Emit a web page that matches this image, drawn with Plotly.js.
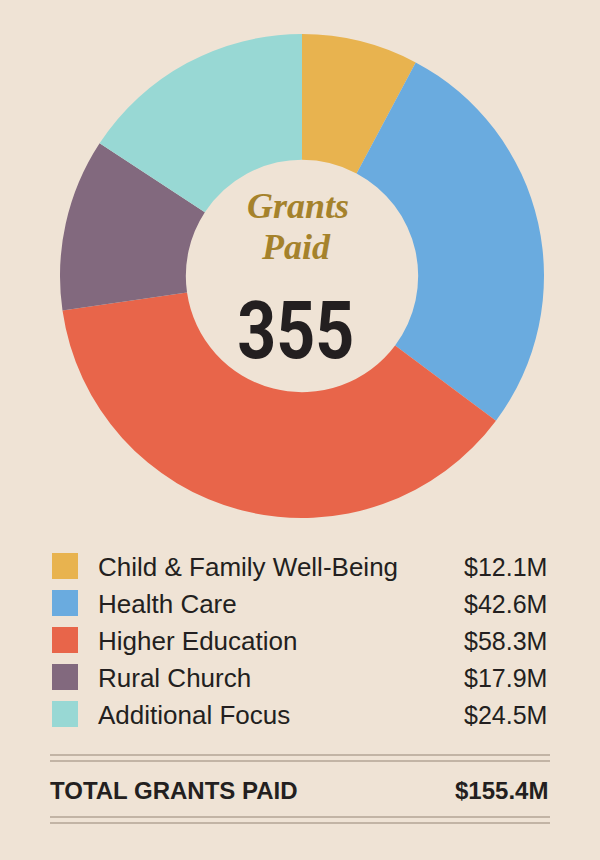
<!DOCTYPE html>
<html>
<head>
<meta charset="utf-8">
<script src="https://cdn.plot.ly/plotly-3.0.1.min.js"></script>
<style>html,body{margin:0;padding:0;background:#EFE3D5;}#chart{width:600px;height:860px;}</style>
</head>
<body>
<div id="chart"></div>
<script>
const categories = ["Child & Family Well-Being", "Health Care", "Higher Education", "Rural Church", "Additional Focus"];
const values = [12.1, 42.6, 58.3, 17.9, 24.5];
const valueLabels = ["$12.1M", "$42.6M", "$58.3M", "$17.9M", "$24.5M"];
const colors = ["#E8B34F", "#6AABDF", "#E8654A", "#82697E", "#98D8D4"];
const centerTitle = ["Grants", "Paid"];
const centerNumber = "355";
const totalLabel = "TOTAL GRANTS PAID";
const totalValue = "$155.4M";

const W = 600, H = 860;
const py = p => 1 - p / H;
const px = p => p / W;

const bg = "#EFE3D5";
const ink = "#231F20";

const trace = {
  type: "pie",
  labels: categories,
  values: values,
  marker: { colors: colors, line: { width: 0 } },
  hole: 0.48,
  sort: false,
  direction: "clockwise",
  rotation: 0,
  textinfo: "none",
  hoverinfo: "label+value",
  showlegend: false,
  domain: { x: [px(60), px(544)], y: [py(518), py(34)] }
};

const annotations = [];
const shapes = [];

const scriptFont = { family: "Liberation Serif, DejaVu Serif, serif", size: 36, color: "#A5822B", style: "italic", weight: "bold" };
annotations.push({ xref: "paper", yref: "paper", x: px(298), y: py(206), text: centerTitle[0], showarrow: false,
  font: scriptFont, xanchor: "center", yanchor: "middle" });
annotations.push({ xref: "paper", yref: "paper", x: px(296), y: py(247), text: centerTitle[1], showarrow: false,
  font: scriptFont, xanchor: "center", yanchor: "middle" });
annotations.push({ xref: "paper", yref: "paper", x: px(296), y: py(331), text: "<b>" + centerNumber + "</b>", showarrow: false,
  font: { family: "Roboto, Liberation Sans, sans-serif", size: 80, color: ink }, xanchor: "center", yanchor: "middle",
  name: "bignum" });

const rowY0 = 566, rowStep = 37;
categories.forEach((c, i) => {
  const yc = rowY0 + i * rowStep;
  shapes.push({ type: "rect", xref: "paper", yref: "paper", x0: px(52), x1: px(78), y0: py(yc - 13), y1: py(yc + 13),
    fillcolor: colors[i], line: { width: 0 } });
  annotations.push({ xref: "paper", yref: "paper", x: px(96), y: py(yc + 1), text: c, showarrow: false,
    font: { family: "Liberation Sans, Arial, sans-serif", size: 26, color: ink }, xanchor: "left", yanchor: "middle" });
  annotations.push({ xref: "paper", yref: "paper", x: px(549), y: py(yc + 1), text: valueLabels[i], showarrow: false,
    font: { family: "Liberation Sans, Arial, sans-serif", size: 25, color: ink }, xanchor: "right", yanchor: "middle" });
});

[755, 761, 817, 823].forEach(yy => {
  shapes.push({ type: "line", xref: "paper", yref: "paper", x0: px(50), x1: px(550), y0: py(yy), y1: py(yy),
    line: { color: "#B3A595", width: 1.5 } });
});

annotations.push({ xref: "paper", yref: "paper", x: px(48), y: py(790), text: "<b>" + totalLabel + "</b>", showarrow: false,
  font: { family: "Liberation Sans, Arial, sans-serif", size: 24, color: ink }, xanchor: "left", yanchor: "middle" });
annotations.push({ xref: "paper", yref: "paper", x: px(550), y: py(790), text: "<b>" + totalValue + "</b>", showarrow: false,
  font: { family: "Liberation Sans, Arial, sans-serif", size: 24, color: ink }, xanchor: "right", yanchor: "middle" });

const layout = {
  width: W, height: H,
  margin: { l: 0, r: 0, t: 0, b: 0 },
  paper_bgcolor: bg, plot_bgcolor: bg,
  showlegend: false,
  annotations: annotations,
  shapes: shapes
};

Plotly.newPlot("chart", [trace], layout, { displayModeBar: false, staticPlot: true }).then(gd => {
  // condense the big number horizontally (the reference uses a condensed face)
  const anns = gd.querySelectorAll(".annotation");
  const el = anns[2] && anns[2].querySelector("text");
  if (el) {
    const bb = el.getBBox();
    const cx = bb.x + bb.width / 2;
    el.setAttribute("transform", `translate(${cx},0) scale(0.85,1) translate(${-cx},0)`);
  }
});
</script>
</body>
</html>
